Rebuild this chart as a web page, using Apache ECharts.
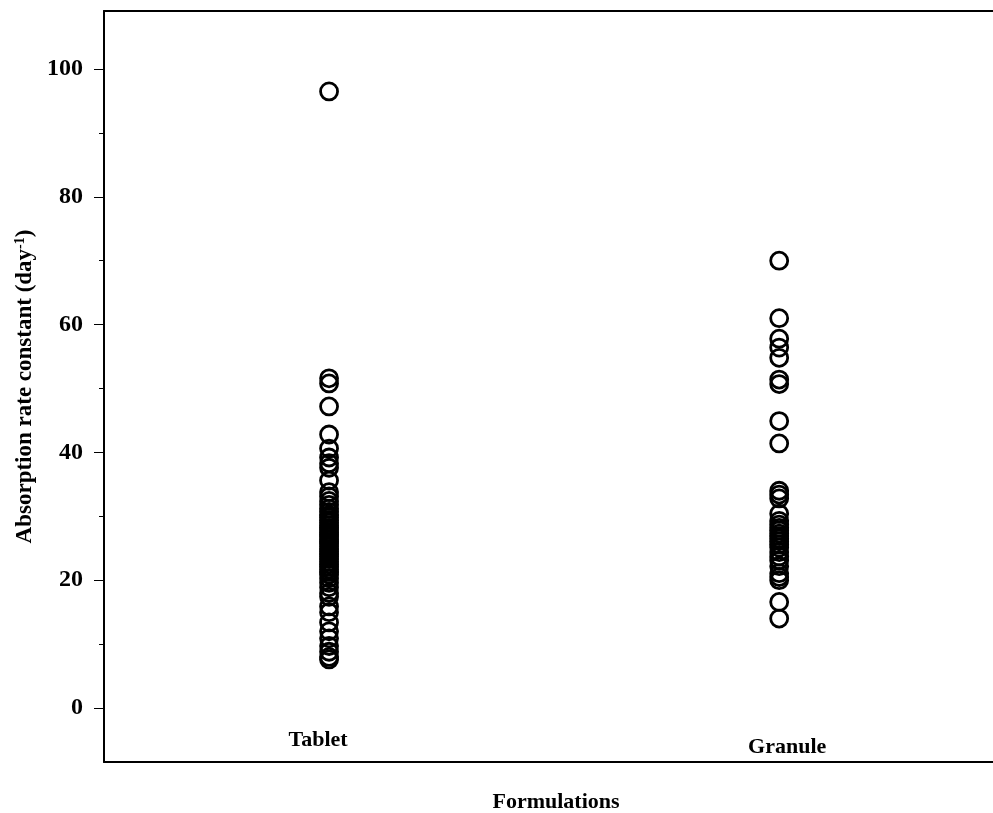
<!DOCTYPE html>
<html>
<head>
<meta charset="utf-8">
<script src="https://cdn.jsdelivr.net/npm/echarts@6/dist/echarts.min.js"></script>
<style>
html,body{margin:0;padding:0;background:#fff;}
#chart{width:993px;height:813px;}
</style>
</head>
<body>
<div id="chart"></div>
<script>
// ---- data ----
var categories = ['Tablet', 'Granule'];
var tabletValues = [96.5, 51.6, 50.8, 47.2, 42.8, 40.6, 39.2, 38.3, 37.6, 35.6, 33.8, 33.1, 32.4, 31.8,
  31.2, 30.7, 30.2, 29.8, 29.4, 29.0, 28.6, 28.2, 27.9, 27.5, 27.1, 26.8, 26.4, 26.0, 25.7, 25.3,
  24.9, 24.5, 24.1, 23.7, 23.3, 22.9, 22.5, 22.1, 21.7, 21.3, 20.9, 20.3, 19.6, 18.9, 18.0, 17.4,
  15.9, 15.0, 13.4, 12.0, 10.9, 9.7, 8.8, 8.0, 7.6];
var granuleValues = [70.0, 61.0, 57.8, 56.4, 54.8, 51.4, 50.7, 44.9, 41.4, 34.0, 33.4, 32.8, 30.4,
  29.3, 28.7, 28.2, 27.8, 27.3, 26.9, 26.5, 26.1, 25.6, 25.1, 24.4, 23.7, 23.1, 22.2, 21.1, 20.5,
  20.0, 16.6, 14.0];
var yMajorTicks = [0, 20, 40, 60, 80, 100];
var yMinorTicks = [10, 30, 50, 70, 90];
var xLabel = 'Formulations';
var yLabel = 'Absorption rate constant (day';

var FONT = '"Liberation Serif", "Times New Roman", serif';
var chart = echarts.init(document.getElementById('chart'), null, {renderer: 'canvas'});

var yMin = -8.45, yMax = 109.08;
var xMin = 0.5, xMax = 2.475;

function pts(idx, arr) { return arr.map(function (v) { return [idx + 1, v]; }); }

var option = {
  animation: false,
  backgroundColor: '#ffffff',
  grid: {left: 104, top: 11, right: 0, bottom: 51, show: false, containLabel: false, outerBoundsMode: 'none'},
  xAxis: [{
    type: 'value', min: xMin, max: xMax, position: 'bottom',
    axisLine: {show: true, onZero: false, lineStyle: {color: '#000', width: 2}},
    axisTick: {show: false},
    splitLine: {show: false},
    axisLabel: {
      inside: true, margin: 4,
      customValues: [1, 2],
      formatter: function (v) { return v === 1 ? '{a|' + categories[0] + '}' : '{b|' + categories[1] + '}'; },
      rich: {
        a: {fontFamily: FONT, fontWeight: 'bold', fontSize: 22, color: '#000', padding: [0, 22, 7, 0]},
        b: {fontFamily: FONT, fontWeight: 'bold', fontSize: 22, color: '#000', padding: [0, 0, 0, 16]}
      }
    },
    name: xLabel, nameLocation: 'middle', nameGap: 29,
    nameTextStyle: {fontFamily: FONT, fontWeight: 'bold', fontSize: 22, color: '#000', padding: [0, 0, 0, 15]}
  }, {
    type: 'value', min: xMin, max: xMax, position: 'top',
    axisLine: {show: true, onZero: false, lineStyle: {color: '#000', width: 2}},
    axisTick: {show: false}, axisLabel: {show: false}, splitLine: {show: false}
  }],
  yAxis: [{
    type: 'value', min: yMin, max: yMax, position: 'left',
    axisLine: {show: true, onZero: false, lineStyle: {color: '#000', width: 2}},
    axisTick: {show: true, length: 10, customValues: yMajorTicks, lineStyle: {color: '#000', width: 1}},
    axisLabel: {customValues: yMajorTicks, margin: 21, fontFamily: FONT, fontWeight: 'bold', fontSize: 24, color: '#000'},
    splitLine: {show: false},
    name: '{a|' + yLabel + '}{s|-1}{a|)}',
    nameLocation: 'middle', nameRotate: 90, nameGap: 61,
    nameTextStyle: {
      rich: {
        a: {fontFamily: FONT, fontWeight: 'bold', fontSize: 23, color: '#000'},
        s: {fontFamily: FONT, fontWeight: 'bold', fontSize: 14, color: '#000', verticalAlign: 'top', padding: [0, 0, 6, 0]}
      }
    }
  }, {
    type: 'value', min: yMin, max: yMax, position: 'left',
    axisLine: {show: false, onZero: false},
    axisTick: {show: true, length: 5, customValues: yMinorTicks, lineStyle: {color: '#000', width: 1}},
    axisLabel: {show: false}, splitLine: {show: false}
  }],
  series: categories.map(function (c, i) {
    return {
      type: 'scatter', name: c, xAxisIndex: 0, yAxisIndex: 0,
      data: pts(i, i === 0 ? tabletValues : granuleValues),
      symbol: 'circle', symbolSize: 17,
      itemStyle: {color: 'transparent', borderColor: '#000', borderWidth: 2.8, opacity: 1}
    };
  })
};
chart.setOption(option);
</script>
</body>
</html>
